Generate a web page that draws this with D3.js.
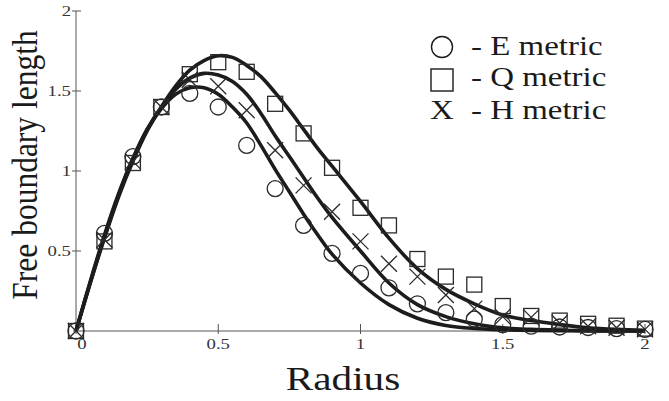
<!DOCTYPE html>
<html>
<head>
<meta charset="utf-8">
<script src="https://cdn.jsdelivr.net/npm/d3@7"></script>
<style>
  body { margin: 0; background: #fff; }
  svg { display: block; }
  text { font-family: "Liberation Serif", "DejaVu Serif", serif; fill: #1a1a1a; }
</style>
</head>
<body>
<div id="chart"></div>
<script>
var W = 669, H = 401;

// marker samples, r = 0, 0.1 ... 2.0
var radii = [0, 0.1, 0.2, 0.3, 0.4, 0.5, 0.6, 0.7, 0.8, 0.9, 1.0, 1.1, 1.2, 1.3, 1.4, 1.5, 1.6, 1.7, 1.8, 1.9, 2.0];
var eMarks = [0, 0.61, 1.09, 1.40, 1.485, 1.40, 1.16, 0.89, 0.66, 0.485, 0.36, 0.27, 0.17, 0.115, 0.075, 0.04, 0.03, 0.025, 0.022, 0.015, 0.01];
var qMarks = [0, 0.56, 1.05, 1.40, 1.605, 1.68, 1.62, 1.42, 1.235, 1.02, 0.77, 0.66, 0.45, 0.34, 0.29, 0.156, 0.094, 0.065, 0.045, 0.033, 0.015];
var hMarks = [0, 0.57, 1.06, 1.40, 1.57, 1.53, 1.38, 1.13, 0.91, 0.745, 0.56, 0.42, 0.34, 0.225, 0.14, 0.09, 0.085, 0.05, 0.03, 0.02, 0.01];

// fitted curves
var curveR = [0, 0.05, 0.1, 0.15, 0.2, 0.25, 0.3, 0.35, 0.4, 0.45, 0.5, 0.55, 0.6, 0.65, 0.7, 0.75, 0.8, 0.85, 0.9, 1.0, 1.1, 1.2, 1.3, 1.4, 1.5, 1.6, 1.7, 1.8, 1.9, 2.0];
var eCurve = [0, 0.31, 0.6, 0.86, 1.08, 1.26, 1.39, 1.48, 1.52, 1.52, 1.48, 1.40, 1.30, 1.16, 1.01, 0.87, 0.73, 0.60, 0.48, 0.30, 0.165, 0.08, 0.035, 0.016, 0.008, 0.004, 0.002, 0.001, 0, 0];
var hCurve = [0, 0.30, 0.59, 0.85, 1.07, 1.26, 1.40, 1.51, 1.58, 1.61, 1.60, 1.56, 1.48, 1.36, 1.22, 1.09, 0.96, 0.83, 0.71, 0.50, 0.30, 0.165, 0.09, 0.045, 0.02, 0.01, 0.005, 0.002, 0, 0];
var qCurve = [0, 0.30, 0.58, 0.84, 1.06, 1.25, 1.40, 1.53, 1.63, 1.69, 1.72, 1.71, 1.66, 1.59, 1.49, 1.38, 1.26, 1.14, 1.03, 0.81, 0.58, 0.39, 0.26, 0.17, 0.10, 0.065, 0.04, 0.02, 0.01, 0.005];

var xTicks = [0, 0.5, 1, 1.5, 2];
var yTicks = [0.5, 1, 1.5, 2];
var legendLabels = ["- E metric", "- Q metric", "- H metric"];

var svg = d3.select("#chart")
    .append("svg")
    .attr("width", W)
    .attr("height", H);

var x = d3.scaleLinear().domain([0, 2]).range([76, 645]);
var y = d3.scaleLinear().domain([0, 2]).range([331, 11]);

// axes
svg.append("line")
    .attr("x1", x(0) - 3).attr("x2", x(2))
    .attr("y1", y(0)).attr("y2", y(0))
    .attr("stroke", "#555").attr("stroke-width", 1);
svg.append("line")
    .attr("x1", x(0)).attr("x2", x(0))
    .attr("y1", y(0)).attr("y2", y(2))
    .attr("stroke", "#555").attr("stroke-width", 1);

svg.selectAll(".xt")
    .data(xTicks)
    .enter()
    .append("line")
        .attr("x1", function(d){ return x(d) })
        .attr("x2", function(d){ return x(d) })
        .attr("y1", y(0) - 7)
        .attr("y2", y(0) + 3)
        .attr("stroke", "#555");

svg.selectAll(".xl")
    .data(xTicks)
    .enter()
    .append("text")
        .attr("transform", function(d){
            var dx = d === 0 ? 6 : 0;
            return "translate(" + (x(d) + dx) + "," + (y(0) + 18) + ") scale(1.25,1)";
        })
        .attr("text-anchor", "middle")
        .style("font-size", "15px")
        .style("fill", "#333")
        .text(function(d){ return d });

svg.selectAll(".yt")
    .data(yTicks)
    .enter()
    .append("line")
        .attr("x1", x(0) - 4)
        .attr("x2", x(0) + 5)
        .attr("y1", function(d){ return y(d) })
        .attr("y2", function(d){ return y(d) })
        .attr("stroke", "#555");

svg.selectAll(".yl")
    .data(yTicks)
    .enter()
    .append("text")
        .attr("transform", function(d){
            return "translate(" + (x(0) - 5) + "," + (y(d) + 5) + ") scale(1.25,1)";
        })
        .attr("text-anchor", "end")
        .style("font-size", "15px")
        .style("fill", "#333")
        .text(function(d){ return d });

// axis titles
svg.append("text")
    .attr("transform", "translate(343,390) scale(1.25,1)")
    .attr("text-anchor", "middle")
    .style("font-size", "33px")
    .text("Radius");

svg.append("text")
    .attr("transform", "translate(37,165) scale(1.12,1) rotate(-90)")
    .attr("text-anchor", "middle")
    .style("font-size", "31.5px")
    .text("Free boundary length");

// curves
var line = d3.line()
    .x(function(d){ return x(d[0]) })
    .y(function(d){ return y(d[1]) })
    .curve(d3.curveCatmullRom);

[eCurve, hCurve, qCurve].forEach(function(vals){
    svg.append("path")
        .datum(curveR.map(function(r, i){ return [r, vals[i]] }))
        .attr("d", line)
        .attr("fill", "none")
        .attr("stroke", "#1c1c1c")
        .attr("stroke-width", 3.6)
        .attr("stroke-linejoin", "round");
});

// markers
var mk = "#2a2a2a";
svg.selectAll(".circ")
    .data(radii)
    .enter()
    .append("circle")
        .attr("cx", function(d){ return x(d) })
        .attr("cy", function(d, i){ return y(eMarks[i]) })
        .attr("r", 8)
        .attr("fill", "none")
        .attr("stroke", mk)
        .attr("stroke-width", 1.3);

svg.selectAll(".sq")
    .data(radii)
    .enter()
    .append("rect")
        .attr("x", function(d){ return x(d) - 7.5 })
        .attr("y", function(d, i){ return y(qMarks[i]) - 7.5 })
        .attr("width", 15)
        .attr("height", 15)
        .attr("fill", "none")
        .attr("stroke", mk)
        .attr("stroke-width", 1.3);

svg.selectAll(".cr")
    .data(radii)
    .enter()
    .append("path")
        .attr("d", function(d, i){
            var cx = x(d), cy = y(hMarks[i]), s = 8;
            return "M" + (cx - s) + "," + (cy - s) + "L" + (cx + s) + "," + (cy + s) +
                   "M" + (cx - s) + "," + (cy + s) + "L" + (cx + s) + "," + (cy - s);
        })
        .attr("fill", "none")
        .attr("stroke", mk)
        .attr("stroke-width", 1.3);

// legend
var lg = svg.append("g");
lg.append("circle")
    .attr("cx", 442).attr("cy", 47).attr("r", 10.5)
    .attr("fill", "none").attr("stroke", "#1a1a1a").attr("stroke-width", 1.4);
lg.append("rect")
    .attr("x", 431).attr("y", 69).attr("width", 22).attr("height", 22)
    .attr("fill", "none").attr("stroke", "#1a1a1a").attr("stroke-width", 1.4);
lg.append("text")
    .attr("transform", "translate(442,119) scale(1.22,1)")
    .attr("text-anchor", "middle")
    .style("font-size", "27px")
    .text("X");

lg.selectAll(".lt")
    .data(legendLabels)
    .enter()
    .append("text")
        .attr("transform", function(d, i){
            var by = [55, 86, 119][i];
            return "translate(471," + by + ") scale(1.22,1)";
        })
        .style("font-size", "27px")
        .text(function(d){ return d });
</script>
</body>
</html>
